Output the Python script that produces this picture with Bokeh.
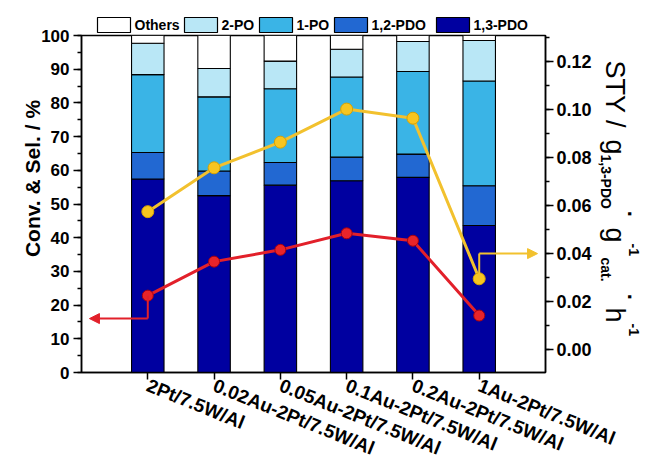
import math
from bokeh.plotting import figure
from bokeh.models import (Range1d, LinearAxis, SingleIntervalTicker, FixedTicker,
                          NumeralTickFormatter, Arrow, NormalHead, ColumnDataSource, GridBox)
from bokeh.core.properties import value
from bokeh.embed import file_html
from bokeh.resources import INLINE

# ---------------- data ----------------
catalysts = ["2Pt/7.5W/Al", "0.02Au-2Pt/7.5W/Al", "0.05Au-2Pt/7.5W/Al",
             "0.1Au-2Pt/7.5W/Al", "0.2Au-2Pt/7.5W/Al", "1Au-2Pt/7.5W/Al"]
sel_13pdo = [57.4, 52.5, 55.6, 56.9, 57.9, 43.6]
sel_12pdo = [7.9, 7.3, 6.7, 7.0, 6.9, 11.8]
sel_1po = [23.1, 22.0, 21.9, 23.8, 24.5, 31.1]
sel_2po = [9.3, 8.4, 8.2, 8.2, 8.9, 12.0]
sel_others = [2.3, 9.8, 7.6, 4.1, 1.8, 1.5]
conversion = [22.8, 32.9, 36.4, 41.3, 39.1, 16.9]
sty = [0.0575, 0.0758, 0.0865, 0.1003, 0.0965, 0.0295]

series = ["1,3-PDO", "1,2-PDO", "1-PO", "2-PO", "Others"]
colors = ["#0000A0", "#2268D2", "#3AB4E6", "#B9E7F6", "#FFFFFF"]
legend_order = ["Others", "2-PO", "1-PO", "1,2-PDO", "1,3-PDO"]
left_title = "Conv. & Sel. / %"
left_ticks_interval = 10
right_ticks_interval = 0.02

FONT = "Liberation Sans"
W, H = 645, 471
RED = "#E2202A"
YEL = "#F2C12E"

xs = [i + 1 for i in range(len(catalysts))]
src = ColumnDataSource(dict(x=xs, **{"1,3-PDO": sel_13pdo, "1,2-PDO": sel_12pdo,
                                     "1-PO": sel_1po, "2-PO": sel_2po, "Others": sel_others}))

# ---------------- main chart ----------------
p = figure(width=W, height=H, output_backend="svg", toolbar_location=None,
           x_range=Range1d(0, len(catalysts) + 1), y_range=Range1d(0, 100),
           min_border_left=81, min_border_right=W - 545, min_border_top=35,
           min_border_bottom=H - 373)
p.xgrid.visible = False
p.ygrid.visible = False
p.outline_line_color = "black"
p.outline_line_width = 1.5
p.background_fill_color = "white"
p.extra_y_ranges = {"sty": Range1d(-0.0096, 0.131)}

bars = p.vbar_stack(series, x="x", width=0.49, source=src, color=colors,
                    line_color="black", line_width=1.1)

p.line(xs, conversion, line_color=RED, line_width=3)
p.scatter(xs, conversion, size=11, fill_color="#E8242A", line_color="#A8000E", line_width=1)
p.line(xs, sty, line_color=YEL, line_width=3, y_range_name="sty")
p.scatter(xs, sty, size=12, fill_color="#F7C520", line_color="#D9A200", line_width=1,
          y_range_name="sty")

# arrows pointing to the axes
red_corner = 16
p.line([xs[0], xs[0]], [conversion[0], red_corner], line_color=RED, line_width=2)
p.add_layout(Arrow(end=NormalHead(size=10, fill_color=RED, line_color=RED),
                   x_start=xs[0], y_start=red_corner, x_end=0.12, y_end=red_corner,
                   line_color=RED, line_width=2))
yel_corner = 0.040
p.line([xs[-1], xs[-1]], [sty[-1], yel_corner], line_color=YEL, line_width=2,
       y_range_name="sty")
p.add_layout(Arrow(end=NormalHead(size=10, fill_color=YEL, line_color=YEL),
                   x_start=xs[-1], y_start=yel_corner, x_end=6.88, y_end=yel_corner,
                   line_color=YEL, line_width=2, y_range_name="sty"))

xa = p.xaxis[0]
xa.ticker = FixedTicker(ticks=xs)
xa.major_label_overrides = {x: c for x, c in zip(xs, catalysts)}
xa.major_label_orientation = -0.384
xa.major_label_text_font = FONT
xa.major_label_text_font_size = "19px"
xa.major_label_text_font_style = "bold"
xa.major_label_text_color = "black"
xa.major_tick_out = 7
xa.major_tick_in = 0
xa.minor_tick_out = 0
xa.axis_line_width = 1.5
xa.major_tick_line_width = 1.5
xa.major_label_standoff = 5

ya = p.yaxis[0]
ya.ticker = SingleIntervalTicker(interval=left_ticks_interval, num_minor_ticks=2)
ya.major_label_text_font = FONT
ya.major_label_text_font_size = "17px"
ya.major_label_text_font_style = "bold"
ya.major_label_text_color = "black"
ya.major_tick_out = 8
ya.major_tick_in = 0
ya.minor_tick_out = 4
ya.minor_tick_in = 0
ya.axis_line_width = 1.5
ya.major_tick_line_width = 1.5
ya.minor_tick_line_width = 1.5
ya.major_label_standoff = 4

ra = LinearAxis(y_range_name="sty",
                ticker=SingleIntervalTicker(interval=right_ticks_interval, num_minor_ticks=2),
                formatter=NumeralTickFormatter(format="0.00"))
ra.major_label_text_font = FONT
ra.major_label_text_font_size = "18px"
ra.major_label_text_font_style = "bold"
ra.major_label_text_color = "black"
ra.major_tick_out = 8
ra.major_tick_in = 0
ra.minor_tick_out = 4
ra.minor_tick_in = 0
ra.axis_line_width = 1.5
ra.major_tick_line_width = 1.5
ra.minor_tick_line_width = 1.5
ra.major_label_standoff = 3
p.add_layout(ra, "right")

# ---------------- transparent overlay for legend and axis titles ----------------
ov = figure(width=W, height=H, output_backend="svg", toolbar_location=None,
            x_range=Range1d(0, W), y_range=Range1d(0, H),
            min_border=0, min_border_left=0, min_border_right=0,
            min_border_top=0, min_border_bottom=0)
ov.axis.visible = False
ov.grid.visible = False
ov.outline_line_color = None
ov.background_fill_alpha = 0
ov.border_fill_alpha = 0
for fig in (p, ov):
    try:
        fig.frame_align = False
    except Exception:
        pass

def Y(sy):
    return H - sy

# legend
box_left = [97, 184, 259, 334, 436]
box_w, box_top, box_bot = 33, 17, 32
leg_colors = [colors[series.index(n)] for n in legend_order]
ov.quad(left=box_left, right=[b + box_w for b in box_left],
        top=[Y(box_top)] * 5, bottom=[Y(box_bot)] * 5,
        fill_color=leg_colors, line_color="black", line_width=1.2)
ov.text(x=[b + box_w + 4 for b in box_left], y=[Y(24.5)] * 5, text=legend_order,
        text_font=value(FONT), text_font_size="14px", text_font_style="bold",
        text_align="left", text_baseline="middle", text_color="black")

# left title
ov.text(x=[32], y=[Y(178)], text=[left_title], angle=math.pi / 2,
        text_font=value(FONT), text_font_size="21px", text_font_style="bold",
        text_align="center", text_baseline="alphabetic", text_color="black")

# right title: STY / g(1,3-PDO) . g(cat.)^-1 . h^-1
def rt(sx, sy, t, size, style="normal", align="left", baseline="alphabetic"):
    ov.text(x=[sx], y=[Y(sy)], text=[t], angle=-math.pi / 2,
            text_font=value(FONT), text_font_size=size, text_font_style=style,
            text_align=align, text_baseline=baseline, text_color="black")

rt(614, 60, "STY /", "27px")
rt(614, 139, "g", "27px")
rt(605, 154, "1,3-PDO", "14px", "bold")
rt(629, 214, "·", "22px", "bold", "center", "middle")
rt(614, 227, "g", "27px")
rt(633, 243, "-1", "14px", "bold")
rt(605, 257, "cat.", "14px", "bold")
rt(629, 297, "·", "22px", "bold", "center", "middle")
rt(614, 307, "h", "27px")
rt(633, 323, "-1", "14px", "bold")

layout = GridBox(children=[(p, 0, 0), (ov, 0, 0)])
open("out.html", "w").write(file_html(layout, INLINE))
